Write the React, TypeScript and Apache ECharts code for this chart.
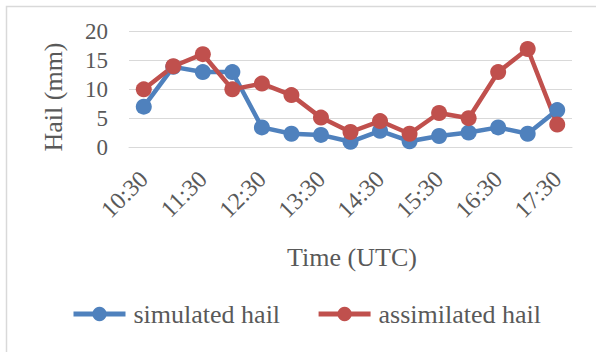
import React, { useEffect, useRef } from "react";
import * as echarts from "echarts";

const times = [
  "10:30", "11:00", "11:30", "12:00", "12:30", "13:00", "13:30", "14:00",
  "14:30", "15:00", "15:30", "16:00", "16:30", "17:00", "17:30",
];
const simulatedHail = [7.0, 13.9, 13.0, 13.0, 3.4, 2.3, 2.1, 0.9, 2.8, 1.0, 1.9, 2.5, 3.4, 2.3, 6.4];
const assimilatedHail = [10.0, 14.0, 16.1, 10.0, 11.0, 9.0, 5.1, 2.6, 4.5, 2.3, 5.9, 5.0, 13.0, 17.0, 3.9];

const FONT = "Liberation Serif";
const TEXT = "#595959";
const GRID = "#d9d9d9";
const BLUE = "#4f81bd";
const RED = "#c0504d";

export default function App() {
  const ref = useRef<HTMLDivElement>(null);

  useEffect(() => {
    if (!ref.current) return;
    const chart = echarts.init(ref.current, null, { renderer: "svg" });
    chart.setOption({
      animation: false,
      backgroundColor: "#ffffff",
      textStyle: { fontFamily: FONT, color: TEXT },
      grid: { left: 129, right: 24, top: 31.7, bottom: 205, containLabel: false },
      xAxis: {
        type: "category",
        data: times,
        boundaryGap: true,
        axisLine: { show: true, lineStyle: { color: GRID, width: 1 } },
        axisTick: { show: false },
        axisLabel: {
          interval: 1,
          rotate: 45,
          margin: 28,
          fontSize: 24,
          fontFamily: FONT,
          color: TEXT,
        },
      },
      yAxis: {
        type: "value",
        min: 0,
        max: 20,
        interval: 5,
        axisLine: { show: false },
        axisTick: { show: false },
        splitLine: { lineStyle: { color: GRID, width: 1 } },
        axisLabel: { fontSize: 23, fontFamily: FONT, color: TEXT, margin: 21 },
      },
      legend: {
        left: 66,
        top: 296,
        itemWidth: 52,
        itemHeight: 18,
        itemGap: 36,
        lineStyle: { width: 5 },
        textStyle: {
          fontSize: 26,
          fontFamily: FONT,
          color: TEXT,
          padding: [0, 0, 0, 3],
        },
        data: ["simulated hail", "assimilated hail"],
      },
      graphic: [
        {
          type: "rect",
          shape: { x: 6.5, y: 6.5, width: 700, height: 500 },
          style: { fill: "none", stroke: GRID, lineWidth: 1.5 },
          silent: true,
        },
        {
          type: "text",
          x: 53,
          y: 97,
          rotation: Math.PI / 2,
          style: {
            text: "Hail (mm)",
            font: `26px ${FONT}`,
            fill: TEXT,
            align: "center",
            verticalAlign: "middle",
          },
        },
        {
          type: "text",
          x: 352,
          y: 257,
          style: {
            text: "Time (UTC)",
            font: `26px ${FONT}`,
            fill: TEXT,
            align: "center",
            verticalAlign: "middle",
          },
        },
      ],
      series: [
        {
          name: "simulated hail",
          type: "line",
          data: simulatedHail,
          symbol: "circle",
          symbolSize: 16,
          color: BLUE,
          lineStyle: { width: 4.5, color: BLUE },
          itemStyle: { color: BLUE },
        },
        {
          name: "assimilated hail",
          type: "line",
          data: assimilatedHail,
          symbol: "circle",
          symbolSize: 16,
          color: RED,
          lineStyle: { width: 4.5, color: RED },
          itemStyle: { color: RED },
        },
      ],
    });
    return () => chart.dispose();
  }, []);

  return (
    <div
      ref={ref}
      style={{ position: "fixed", left: 0, top: 0, width: 596, height: 352 }}
    />
  );
}
